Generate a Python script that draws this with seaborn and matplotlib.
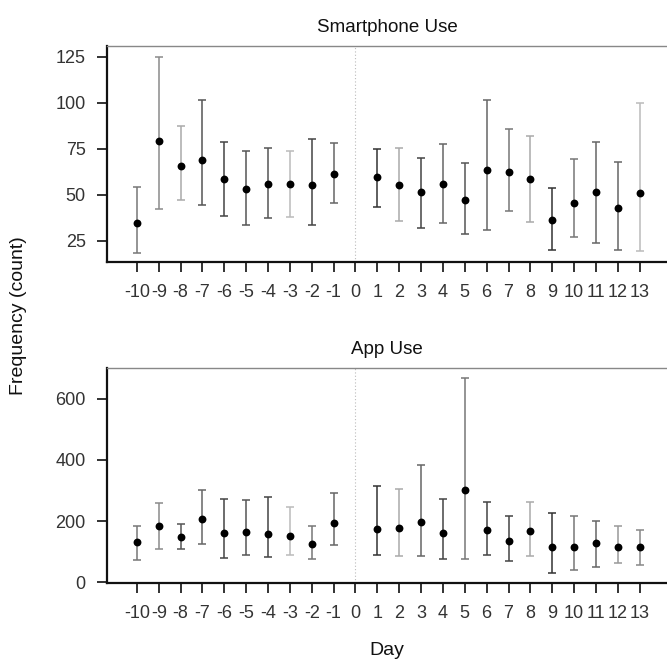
import numpy as np
import pandas as pd
import matplotlib
matplotlib.use("Agg")
import matplotlib.pyplot as plt
import seaborn as sns

days = [-10, -9, -8, -7, -6, -5, -4, -3, -2, -1,
        1, 2, 3, 4, 5, 6, 7, 8, 9, 10, 11, 12, 13]

# Smartphone use (count)
phone_mean = [34.6, 79.3, 65.9, 69.0, 58.5, 53.1, 56.1, 56.1, 55.2, 61.2,
              59.6, 55.4, 51.4, 55.8, 47.4, 63.5, 62.3, 58.7, 36.6, 45.8, 51.6, 42.9, 50.9]
phone_low = [18.5, 42.2, 47.1, 44.4, 38.6, 33.9, 37.3, 38.0, 33.9, 45.5,
             43.5, 36.0, 31.9, 34.6, 29.0, 31.0, 41.1, 35.5, 20.1, 27.0, 23.9, 20.0, 19.4]
phone_high = [54.5, 125.0, 87.4, 101.5, 78.9, 73.7, 75.3, 74.0, 80.2, 78.0,
              74.8, 75.5, 69.9, 77.8, 67.2, 101.5, 86.0, 82.2, 53.9, 69.7, 78.9, 68.0, 99.7]
phone_shade = ["#777777", "#8a8a8a", "#aaaaaa", "#555555", "#444444", "#555555", "#555555",
               "#bbbbbb", "#444444", "#666666", "#333333", "#aaaaaa", "#444444", "#666666",
               "#555555", "#666666", "#777777", "#aaaaaa", "#333333", "#777777", "#666666",
               "#666666", "#bbbbbb"]

# App use (count)
app_mean = [130.9, 184.0, 146.0, 206.0, 162.0, 164.6, 159.0, 152.5, 126.3, 194.0,
            173.4, 178.7, 198.3, 160.3, 302.0, 172.0, 135.0, 168.0, 113.3, 113.3, 127.6, 114.5, 113.3]
app_low = [72.0, 108.0, 106.7, 125.0, 78.5, 90.0, 80.5, 90.0, 76.0, 121.0,
           90.0, 85.0, 83.8, 75.0, 76.0, 88.0, 68.5, 83.8, 28.3, 40.0, 50.0, 62.0, 56.6]
app_high = [185.0, 260.5, 190.0, 303.0, 273.6, 268.0, 278.0, 245.0, 182.0, 293.0,
            314.0, 304.0, 383.8, 273.6, 669.5, 263.8, 214.8, 263.8, 225.8, 216.0, 201.6, 184.2, 170.0]
app_shade = ["#777777", "#8a8a8a", "#555555", "#666666", "#444444", "#555555", "#444444",
             "#bbbbbb", "#777777", "#666666", "#333333", "#aaaaaa", "#666666", "#444444",
             "#777777", "#444444", "#444444", "#aaaaaa", "#333333", "#777777", "#666666",
             "#999999", "#888888"]

tick_days = list(range(-10, 14))

sns.set_theme(style="white")
plt.rcParams["font.family"] = ["Liberation Sans", "DejaVu Sans"]

fig = plt.figure(figsize=(6.67, 6.67), dpi=100)
ax1 = fig.add_axes([0.161, 0.607, 0.839, 0.324])
ax2 = fig.add_axes([0.161, 0.1255, 0.839, 0.3232])

panels = [
    (ax1, "Smartphone Use", phone_mean, phone_low, phone_high, phone_shade,
     (13.5, 130.8), [25, 50, 75, 100, 125]),
    (ax2, "App Use", app_mean, app_low, app_high, app_shade,
     (-4, 702), [0, 200, 400, 600]),
]

for ax, title, mean, low, high, shade, ylim, yticks in panels:
    df = pd.DataFrame({"day": days, "mean": mean, "low": low, "high": high})
    ax.axvline(0, color="#bbbbbb", lw=0.8, ls=(0, (1, 2)), zorder=1)
    for i, row in df.iterrows():
        ax.errorbar(row["day"], row["mean"],
                    yerr=[[row["mean"] - row["low"]], [row["high"] - row["mean"]]],
                    fmt="none", ecolor=shade[i], elinewidth=1.1, capsize=3, capthick=1.1,
                    zorder=2)
    sns.scatterplot(data=df, x="day", y="mean", ax=ax, color="black", s=32,
                    edgecolor="black", linewidth=0, zorder=3, legend=False)
    ax.set_xlim(-11.35, 14.25)
    ax.set_ylim(*ylim)
    ax.set_xticks(tick_days)
    ax.set_xticklabels([str(d) for d in tick_days])
    ax.set_yticks(yticks)
    ax.set_xlabel("")
    ax.set_ylabel("")
    ax.set_title(title, fontsize=13.5, color="#111111", pad=10)
    ax.tick_params(axis="both", which="both", direction="out", length=7.5, width=1.3,
                   color="#222222", labelsize=13, labelcolor="#333333", pad=8,
                   bottom=True, left=True)
    ax.spines["left"].set_linewidth(1.6)
    ax.spines["left"].set_color("#111111")
    ax.spines["bottom"].set_linewidth(1.6)
    ax.spines["bottom"].set_color("#111111")
    ax.spines["top"].set_linewidth(1.0)
    ax.spines["top"].set_color("#888888")
    ax.spines["right"].set_visible(False)

fig.text(0.027, 0.527, "Frequency (count)", rotation=90, ha="center", va="center",
         fontsize=14, color="#111111")
fig.text(0.58, 0.025, "Day", ha="center", va="center", fontsize=14, color="#111111")

fig.savefig("out.png", dpi=100)
plt.close(fig)
